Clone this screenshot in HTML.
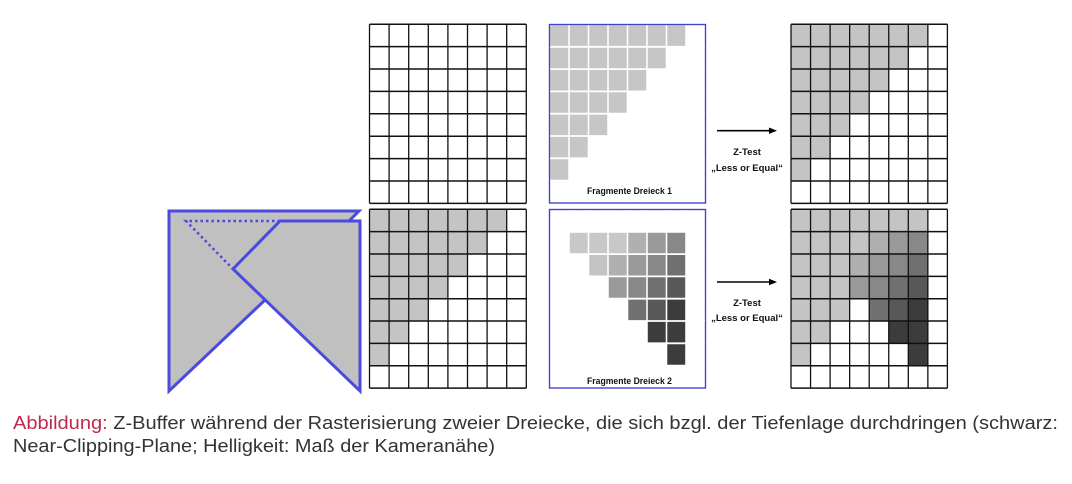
<!DOCTYPE html>
<html><head><meta charset="utf-8"><style>
html,body{margin:0;padding:0;background:#fff;}
svg{display:block;}
.lbl{font-family:"Liberation Sans",sans-serif;font-weight:bold;font-size:9.5px;fill:#111;}
</style></head><body>
<svg width="1072" height="484" viewBox="0 0 1072 484" xmlns="http://www.w3.org/2000/svg">
<defs>
<path id="grid" d="M0 0V8M1 0V8M2 0V8M3 0V8M4 0V8M5 0V8M6 0V8M7 0V8M8 0V8M0 0H8M0 1H8M0 2H8M0 3H8M0 4H8M0 5H8M0 6H8M0 7H8M0 8H8"/>
<path id="inner" d="M1 0V8M2 0V8M3 0V8M4 0V8M5 0V8M6 0V8M7 0V8M0 1H8M0 2H8M0 3H8M0 4H8M0 5H8M0 6H8M0 7H8"/>
<polygon id="stair" points="0,0 7,0 7,1 6,1 6,2 5,2 5,3 4,3 4,4 3,4 3,5 2,5 2,6 1,6 1,7 0,7"/>
</defs>

<g transform="translate(369.5,24.2) scale(19.6,22.4)">
<use href="#grid" fill="none" style="stroke:#111;stroke-width:0.066px"/>
</g>
<g transform="translate(369.5,209.3) scale(19.6,22.35)">
<use href="#stair" fill="#c4c4c4"/>
<use href="#grid" fill="none" style="stroke:#111;stroke-width:0.066px"/>
</g>

<rect x="549.5" y="24.5" width="156" height="178.5" fill="#fff" stroke="#3f3fd0" stroke-width="1.2"/>
<g transform="translate(549.5,24.5) scale(19.5,22.3)">
<use href="#stair" fill="#c6c6c6"/>
<use href="#inner" fill="none" style="stroke:#fff;stroke-width:0.08px"/>
</g>
<rect x="549.5" y="24.5" width="156" height="178.5" fill="none" stroke="#3f3fd0" stroke-width="1.2"/>
<text class="lbl" x="587" y="194" textLength="85" lengthAdjust="spacingAndGlyphs">Fragmente Dreieck 1</text>

<rect x="549.5" y="209.5" width="156" height="178.5" fill="#fff" stroke="#3f3fd0" stroke-width="1.2"/>
<g transform="translate(549.5,209.5) scale(19.5,22.3)">
<rect x="1" y="1" width="1" height="1" fill="#c8c8c8"/><rect x="2" y="1" width="1" height="1" fill="#c8c8c8"/><rect x="3" y="1" width="1" height="1" fill="#c8c8c8"/><rect x="4" y="1" width="1" height="1" fill="#b0b0b0"/><rect x="5" y="1" width="1" height="1" fill="#9a9a9a"/><rect x="6" y="1" width="1" height="1" fill="#888"/>
<rect x="2" y="2" width="1" height="1" fill="#c4c4c4"/><rect x="3" y="2" width="1" height="1" fill="#b0b0b0"/><rect x="4" y="2" width="1" height="1" fill="#9a9a9a"/><rect x="5" y="2" width="1" height="1" fill="#888"/><rect x="6" y="2" width="1" height="1" fill="#707070"/>
<rect x="3" y="3" width="1" height="1" fill="#9a9a9a"/><rect x="4" y="3" width="1" height="1" fill="#888"/><rect x="5" y="3" width="1" height="1" fill="#707070"/><rect x="6" y="3" width="1" height="1" fill="#585858"/>
<rect x="4" y="4" width="1" height="1" fill="#707070"/><rect x="5" y="4" width="1" height="1" fill="#585858"/><rect x="6" y="4" width="1" height="1" fill="#3c3c3c"/>
<rect x="5" y="5" width="1" height="1" fill="#3c3c3c"/><rect x="6" y="5" width="1" height="1" fill="#3c3c3c"/>
<rect x="6" y="6" width="1" height="1" fill="#3c3c3c"/>
<use href="#inner" fill="none" style="stroke:#fff;stroke-width:0.08px"/>
</g>
<rect x="549.5" y="209.5" width="156" height="178.5" fill="none" stroke="#3f3fd0" stroke-width="1.2"/>
<text class="lbl" x="587" y="384" textLength="85" lengthAdjust="spacingAndGlyphs">Fragmente Dreieck 2</text>

<line x1="717" y1="130.7" x2="771" y2="130.7" stroke="#000" stroke-width="1.6"/>
<polygon points="777,130.7 769,127.5 769,133.9" fill="#000"/>
<text class="lbl" x="747" y="155" text-anchor="middle" font-size="8.5">Z-Test</text>
<text class="lbl" x="747" y="171" text-anchor="middle" font-size="8.5">„Less or Equal“</text>

<line x1="717" y1="282" x2="771" y2="282" stroke="#000" stroke-width="1.6"/>
<polygon points="777,282 769,278.8 769,285.2" fill="#000"/>
<text class="lbl" x="747" y="306" text-anchor="middle" font-size="8.5">Z-Test</text>
<text class="lbl" x="747" y="321" text-anchor="middle" font-size="8.5">„Less or Equal“</text>

<g transform="translate(791,24.2) scale(19.55,22.4)">
<use href="#stair" fill="#c4c4c4"/>
<use href="#grid" fill="none" style="stroke:#111;stroke-width:0.066px"/>
</g>
<g transform="translate(791,209.3) scale(19.55,22.35)">
<use href="#stair" fill="#c4c4c4"/>
<rect x="6" y="0" width="1" height="1" fill="#c4c4c4"/>
<rect x="4" y="1" width="1" height="1" fill="#b0b0b0"/><rect x="5" y="1" width="1" height="1" fill="#9a9a9a"/><rect x="6" y="1" width="1" height="1" fill="#888"/>
<rect x="3" y="2" width="1" height="1" fill="#b0b0b0"/><rect x="4" y="2" width="1" height="1" fill="#9a9a9a"/><rect x="5" y="2" width="1" height="1" fill="#888"/><rect x="6" y="2" width="1" height="1" fill="#707070"/>
<rect x="3" y="3" width="1" height="1" fill="#9a9a9a"/><rect x="4" y="3" width="1" height="1" fill="#888"/><rect x="5" y="3" width="1" height="1" fill="#707070"/><rect x="6" y="3" width="1" height="1" fill="#585858"/>
<rect x="4" y="4" width="1" height="1" fill="#707070"/><rect x="5" y="4" width="1" height="1" fill="#585858"/><rect x="6" y="4" width="1" height="1" fill="#3c3c3c"/>
<rect x="5" y="5" width="1" height="1" fill="#3c3c3c"/><rect x="6" y="5" width="1" height="1" fill="#3c3c3c"/>
<rect x="6" y="6" width="1" height="1" fill="#3c3c3c"/>
<use href="#grid" fill="none" style="stroke:#111;stroke-width:0.066px"/>
</g>

<polygon points="169,211 359,211 169,391" fill="#c0c0c0"/>
<polygon points="280,221 360,221 360,391 233,269" fill="#c0c0c0"/>
<g fill="none" stroke="#4a4ade" stroke-width="3" stroke-linejoin="miter">
<polyline points="349,221 359,211 169,211 169,391 265,300"/>
<polygon points="280,221 360,221 360,391 233,269"/>
</g>
<g fill="none" stroke="#4a4ade" stroke-width="2.5" stroke-dasharray="2.5,3">
<polyline points="280,221 186,221 233,269"/>
</g>

<text x="13" y="429" font-family="'Liberation Sans',sans-serif" font-size="18" fill="#333" textLength="1045" lengthAdjust="spacingAndGlyphs"><tspan fill="#c2284f">Abbildung:</tspan> Z-Buffer während der Rasterisierung zweier Dreiecke, die sich bzgl. der Tiefenlage durchdringen (schwarz:</text>
<text x="13" y="452" font-family="'Liberation Sans',sans-serif" font-size="18" fill="#333" textLength="482" lengthAdjust="spacingAndGlyphs">Near-Clipping-Plane; Helligkeit: Maß der Kameranähe)</text>
</svg>
</body></html>
